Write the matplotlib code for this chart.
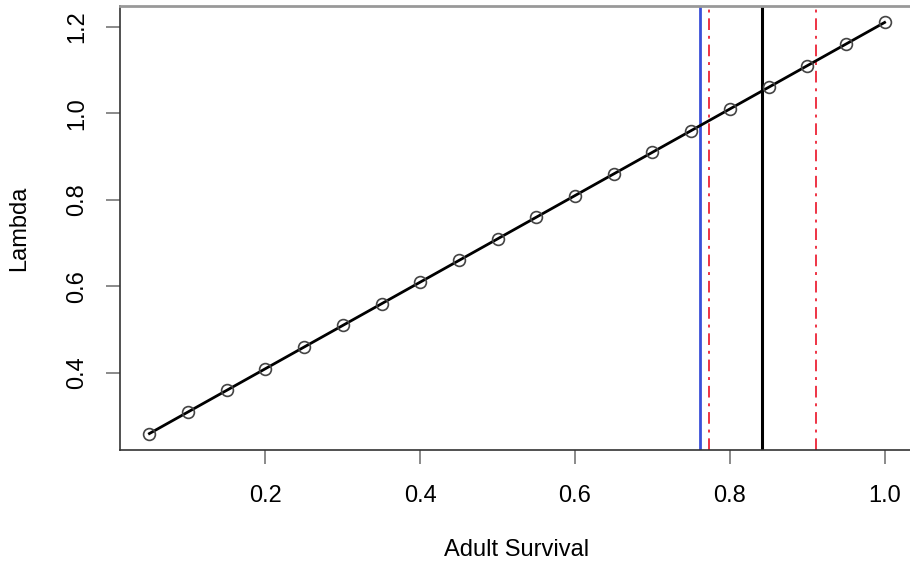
import numpy as np
import matplotlib
matplotlib.use("Agg")
import matplotlib.pyplot as plt

plt.rcParams['font.family'] = ['Liberation Sans', 'DejaVu Sans']

# adult survival vs. lambda
survival = [0.05, 0.10, 0.15, 0.20, 0.25, 0.30, 0.35, 0.40, 0.45, 0.50,
            0.55, 0.60, 0.65, 0.70, 0.75, 0.80, 0.85, 0.90, 0.95, 1.00]
lam = [0.26, 0.31, 0.36, 0.41, 0.46, 0.51, 0.56, 0.61, 0.66, 0.71,
       0.76, 0.81, 0.86, 0.91, 0.96, 1.01, 1.06, 1.11, 1.16, 1.21]

# reference lines
blueLine = 0.761
blackLine = 0.842
redLines = [0.7725, 0.911]

xTicks = [0.2, 0.4, 0.6, 0.8, 1.0]
yTicks = [0.4, 0.6, 0.8, 1.0, 1.2]

fig = plt.figure(figsize=(9.1, 5.65), dpi=100)
ax = fig.add_axes([120/910, 115/565, 794/910, 444/565])

ax.plot(survival, lam, color='black', lw=2, zorder=3)
ax.plot(survival, lam, 'o', ms=8.5, mfc='none', mec='#444444', mew=1.2, zorder=4)

ax.axvline(blueLine, color='#3a4fd8', lw=2)
ax.axvline(blackLine, color='black', lw=2.2)
for x in redLines:
  ax.axvline(x, color='#ee3344', lw=1.4, ls=(0, (6, 3, 1.5, 3)))

ax.set_xlim(0.012, 1.038)
ax.set_ylim(0.222, 1.248)
ax.set_xticks(xTicks)
ax.set_xticklabels(["%.1f" % t for t in xTicks])
ax.set_yticks(yTicks)
ax.set_yticklabels(["%.1f" % t for t in yTicks], rotation=90, va='center')

ax.tick_params(axis='x', colors='#777777', length=10, width=1.2,
               labelsize=17, labelcolor='black', pad=15)
ax.tick_params(axis='y', colors='#777777', length=10, width=1.2,
               labelsize=17, labelcolor='black', pad=13)
for s in ['left', 'bottom', 'right']:
  ax.spines[s].set_color('#333333')
  ax.spines[s].set_linewidth(1.2)
ax.spines['top'].set_color('#999999')
ax.spines['top'].set_linewidth(2)

ax.set_xlabel("Adult Survival", fontsize=17, va='center')
ax.xaxis.set_label_coords(0.5, -0.225)
ax.set_ylabel("Lambda", fontsize=17, va='center')
ax.yaxis.set_label_coords(-0.127, 0.5)

fig.savefig("out.png", dpi=100)
